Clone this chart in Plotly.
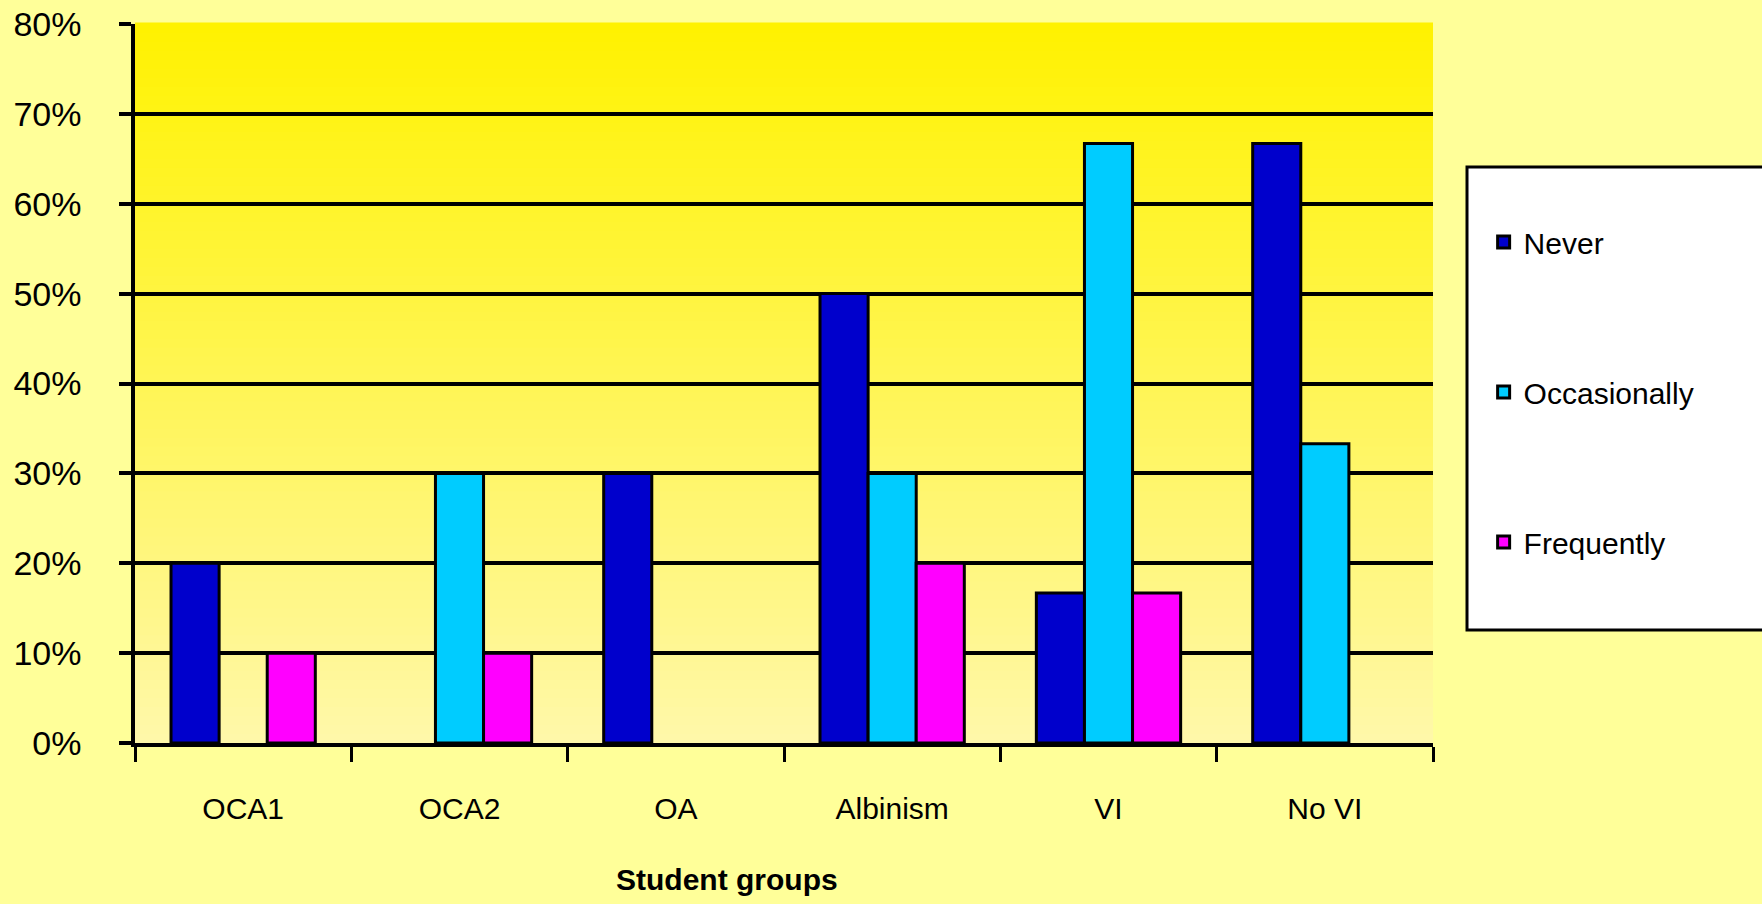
import plotly.graph_objects as go

categories = ["OCA1", "OCA2", "OA", "Albinism", "VI", "No VI"]
never = [20, 0, 30, 50, 16.7, 66.7]
occasionally = [0, 30, 0, 30, 66.7, 33.3]
frequently = [10, 10, 0, 20, 16.7, 0]
series_names = ["Never", "Occasionally", "Frequently"]
series_colors = ["#0000CC", "#00CCFF", "#FF00FF"]
y_ticks = [0, 10, 20, 30, 40, 50, 60, 70, 80]
y_tick_labels = ["0%", "10%", "20%", "30%", "40%", "50%", "60%", "70%", "80%"]
x_title = "Student groups"

FONT = "Liberation Sans Narrow, Arial Narrow, Liberation Sans, Arial, sans-serif"

fig = go.Figure()
for name, vals, col in zip(series_names, [never, occasionally, frequently], series_colors):
    fig.add_trace(go.Bar(
        x=categories, y=[v if v else None for v in vals], name=name, legendgroup=name,
        marker=dict(color=col, line=dict(color="black", width=3)),
        hoverinfo="skip",
    ))

# vertical gradient in plot area
N = 80
top = (255, 242, 0)
bot = (255, 248, 170)
shapes = []
for i in range(N):
    t = (i + 0.5) / N
    c = tuple(round(bot[k] + (top[k] - bot[k]) * t) for k in range(3))
    shapes.append(dict(type="rect", xref="x domain", yref="y domain",
                       x0=0, x1=1, y0=i / N, y1=(i + 1) / N + 0.002,
                       fillcolor="rgb(%d,%d,%d)" % c, line=dict(width=0), layer="below"))
# legend box
shapes.append(dict(type="rect", xref="paper", yref="paper",
                   x0=1.0262, x1=1.26, y0=0.157, y1=0.801,
                   fillcolor="white", line=dict(color="black", width=3), layer="below"))

fig.update_layout(
    width=1762, height=904,
    margin=dict(l=135, r=329, t=24, b=161, autoexpand=False),
    paper_bgcolor="#FFFF99",
    plot_bgcolor="#FFF9A8",
    barmode="group", bargap=0.333, bargroupgap=0,
    font=dict(family=FONT, size=30, color="black"),
    shapes=shapes,
    showlegend=True,
    legend=dict(x=1.039, xanchor="left", y=0.733, yanchor="top",
                bgcolor="rgba(0,0,0,0)", borderwidth=0,
                traceorder="grouped", tracegroupgap=108,
                font=dict(family=FONT, size=30)),
    annotations=[dict(text="<b>" + x_title + "</b>", xref="paper", yref="paper",
                      x=0.456, y=-0.19, xanchor="center", yanchor="middle",
                      showarrow=False, font=dict(family=FONT, size=30))],
)
fig.update_yaxes(range=[0, 80], tickvals=y_ticks, ticktext=y_tick_labels,
                 automargin=False,
                 showgrid=True, gridcolor="black", gridwidth=3.5,
                 showline=True, linecolor="black", linewidth=3.5,
                 ticks="outside", ticklen=12, tickwidth=3.5, tickcolor="black",
                 ticklabelstandoff=31, zeroline=False,
                 tickfont=dict(family=FONT, size=34))
fig.update_xaxes(showgrid=False, showline=True, linecolor="black", linewidth=3.5,
                 automargin=False,
                 ticks="outside", tickson="boundaries", ticklen=15, tickwidth=3,
                 tickcolor="black", ticklabelstandoff=36,
                 tickfont=dict(family=FONT, size=30))

fig.write_html("out.html", config={"displayModeBar": False},
               post_script="document.body.style.margin='0';document.body.style.overflow='hidden';")
